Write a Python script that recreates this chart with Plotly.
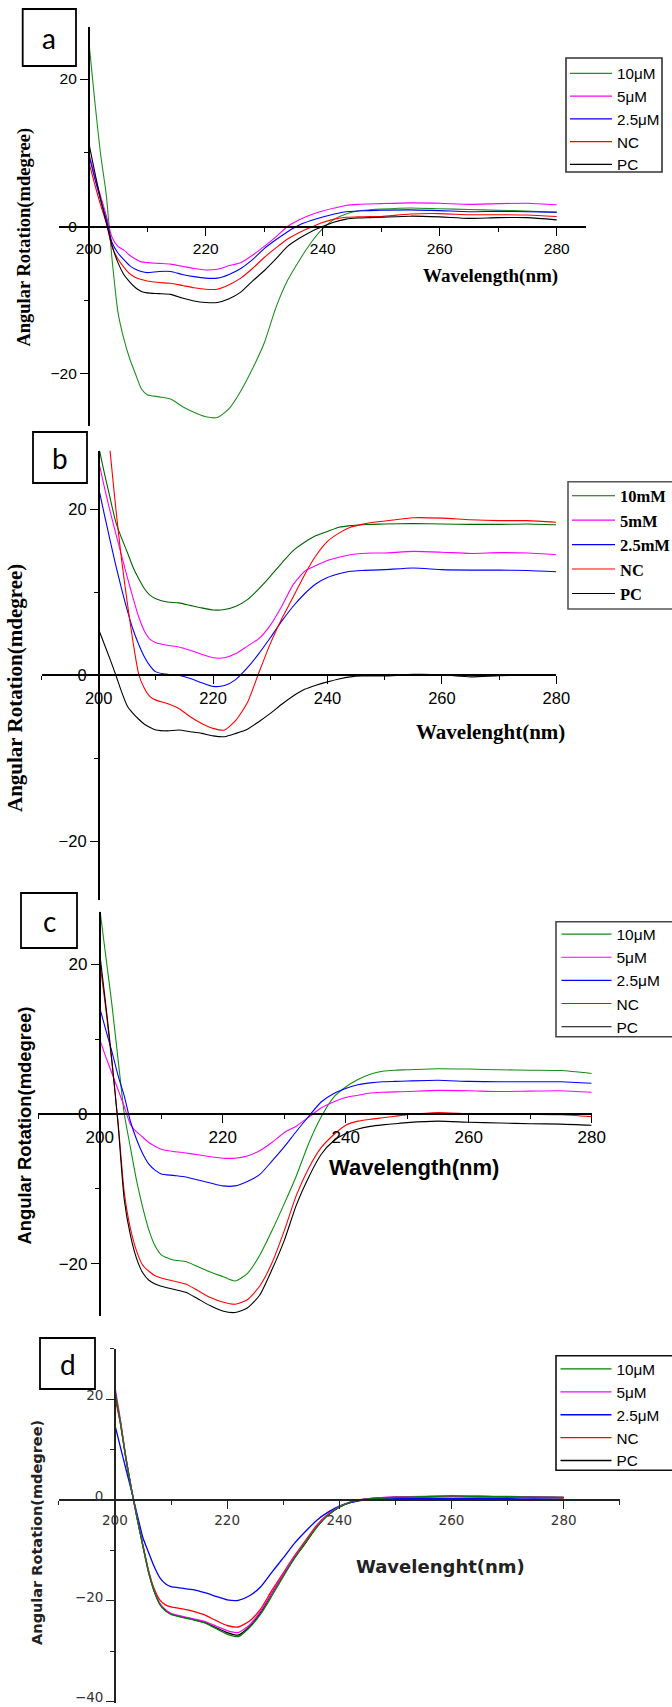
import plotly.graph_objects as go

W, H = 672, 1707

# ---------------- data ----------------
wavelength = [200, 201, 202, 203, 204, 205, 206, 207, 208, 209, 210,
              212, 214, 216, 218, 220, 222, 224, 226, 228, 230,
              232, 234, 236, 238, 240, 242, 244, 246, 248, 250,
              255, 260, 265, 270, 275, 280]

series_uM = ["10\u03bcM", "5\u03bcM", "2.5\u03bcM", "NC", "PC"]
series_mM = ["10mM", "5mM", "2.5mM", "NC", "PC"]

# panel a
a_10 = [25.3, 17.3, 10.0, 4.3, -4.5, -11.6, -15.2, -17.9, -20.0, -22.0, -22.8,
        -23.1, -23.4, -24.4, -25.2, -25.8, -25.9, -24.7, -22.3, -19.3, -15.8,
        -11.0, -7.3, -4.6, -2.2, -0.3, 1.0, 1.7, 2.1, 2.25, 2.35,
        2.5, 2.4, 2.3, 2.2, 2.1, 1.9]
a_5 = [10.1, 7.0, 4.2, 1.5, -1.5, -2.7, -3.2, -3.9, -4.4, -4.8, -4.9,
       -5.0, -5.1, -5.4, -5.7, -5.9, -5.8, -5.3, -4.9, -3.9, -2.7,
       -1.4, 0.0, 0.9, 1.6, 2.1, 2.5, 2.85, 3.0, 3.05, 3.1,
       3.2, 3.15, 3.0, 3.1, 3.15, 2.95]
a_2p5 = [9.8, 6.6, 3.7, 1.0, -2.2, -3.6, -4.5, -5.3, -5.8, -6.1, -6.25,
         -6.1, -6.1, -6.5, -6.8, -7.0, -7.0, -6.5, -5.7, -4.5, -3.0,
         -1.8, -0.7, 0.2, 0.8, 1.3, 1.7, 2.0, 2.1, 2.15, 2.2,
         2.25, 2.15, 2.0, 2.05, 2.0, 1.95]
a_NC = [8.8, 5.8, 3.0, 0.5, -2.8, -4.4, -5.5, -6.4, -6.9, -7.2, -7.4,
        -7.6, -7.7, -8.0, -8.3, -8.5, -8.5, -7.9, -7.0, -5.7, -4.2,
        -2.9, -1.7, -0.8, -0.1, 0.55, 1.0, 1.25, 1.3, 1.35, 1.35,
        1.7, 1.75, 1.6, 1.6, 1.55, 1.35]
a_PC = [11.4, 7.5, 3.8, 0.6, -2.6, -4.9, -6.5, -7.5, -8.3, -8.8, -9.0,
        -9.1, -9.2, -9.7, -10.1, -10.3, -10.3, -9.8, -8.9, -7.4, -6.0,
        -4.4, -2.7, -1.6, -0.7, 0.0, 0.6, 1.0, 1.15, 1.2, 1.25,
        1.4, 1.3, 1.1, 1.2, 1.2, 0.9]

# panel b
b_10 = [27.5, 24.3, 21.3, 18.4, 16.5, 14.8, 13.0, 11.6, 10.4, 9.6, 9.2,
        8.8, 8.7, 8.4, 8.1, 7.85, 7.9, 8.3, 9.1, 10.4, 11.9,
        13.5, 15.0, 16.0, 16.8, 17.3, 17.8, 18.0, 18.1, 18.15, 18.2,
        18.25, 18.2, 18.15, 18.15, 18.2, 18.1]
b_5 = [25.7, 22.6, 19.7, 17.0, 14.4, 11.8, 9.3, 7.0, 5.3, 4.3, 3.9,
       3.6, 3.4, 3.0, 2.5, 2.1, 2.1, 2.6, 3.5, 4.4, 6.0,
       8.3, 10.9, 12.5, 13.2, 13.8, 14.2, 14.5, 14.65, 14.7, 14.7,
       14.9, 14.8, 14.65, 14.75, 14.7, 14.5]
b_2p5 = [22.5, 19.3, 16.2, 13.2, 10.4, 7.8, 5.5, 3.7, 2.2, 1.1, 0.4,
         0.1, 0.0, -0.4, -0.9, -1.35, -1.25, -0.5, 0.9, 2.6, 4.5,
         6.5, 8.3, 9.8, 11.0, 11.75, 12.2, 12.5, 12.6, 12.65, 12.7,
         12.9, 12.7, 12.65, 12.65, 12.6, 12.45]
b_NC = [41.0, 34.0, 26.9, 20.0, 13.9, 8.7, 4.0, 0.1, -1.6, -2.6, -3.0,
        -3.4, -4.0, -5.0, -5.8, -6.4, -6.6, -5.4, -3.3, 0.3, 3.8,
        6.8, 9.4, 12.1, 14.4, 16.1, 17.1, 17.8, 18.15, 18.4, 18.55,
        18.95, 18.9, 18.7, 18.6, 18.6, 18.4]
b_PC = [5.5, 3.7, 1.9, 0.0, -2.0, -3.7, -4.6, -5.3, -5.9, -6.3, -6.6,
        -6.7, -6.6, -6.8, -7.0, -7.3, -7.4, -7.0, -6.5, -5.6, -4.6,
        -3.5, -2.5, -1.7, -1.2, -0.8, -0.45, -0.2, -0.1, -0.1, -0.1,
        0.1, 0.05, -0.2, -0.05, 0.0, 0.0]

# panel c
c_10 = [27.5, 21.0, 14.5, 7.2, 0.0, -4.5, -8.9, -12.5, -15.5, -17.6, -18.8,
        -19.5, -19.7, -20.4, -21.1, -21.7, -22.3, -21.3, -18.9, -15.6, -12.0,
        -8.2, -3.9, -0.4, 2.2, 3.6, 4.6, 5.3, 5.7, 5.85, 5.9,
        6.05, 6.0, 5.9, 5.85, 5.8, 5.4]
c_5 = [10.0, 7.6, 5.4, 3.2, 1.0, -1.4, -2.4, -3.1, -3.8, -4.3, -4.7,
       -5.0, -5.2, -5.45, -5.7, -5.9, -5.9, -5.6, -4.9, -3.8, -2.5,
       -1.6, -0.4, 0.8, 1.6, 2.2, 2.5, 2.8, 2.9, 2.95, 3.0,
       3.15, 3.1, 3.0, 3.05, 3.1, 2.9]
c_2p5 = [14.2, 11.2, 8.3, 5.1, 2.4, -1.0, -3.4, -5.3, -6.7, -7.5, -8.0,
         -8.2, -8.4, -8.8, -9.2, -9.6, -9.6, -9.0, -8.1, -6.3, -4.4,
         -2.3, -0.3, 1.6, 2.7, 3.4, 3.9, 4.15, 4.3, 4.35, 4.4,
         4.5, 4.35, 4.3, 4.3, 4.3, 4.1]
c_NC = [20.4, 14.0, 6.8, -1.2, -10.5, -15.3, -18.3, -20.2, -21.0, -21.6, -21.9,
        -22.3, -22.7, -23.6, -24.5, -25.1, -25.4, -24.8, -23.0, -19.9, -15.6,
        -10.8, -7.2, -4.5, -2.8, -1.5, -0.95, -0.7, -0.5, -0.3, -0.1,
        0.2, 0.05, 0.0, -0.05, -0.1, -0.35]
c_PC = [21.5, 14.5, 7.0, -1.5, -11.5, -16.2, -19.3, -21.2, -22.2, -22.7, -23.0,
        -23.4, -23.8, -24.7, -25.6, -26.3, -26.5, -25.9, -24.2, -20.8, -16.9,
        -12.1, -8.4, -5.4, -3.6, -2.6, -2.0, -1.65, -1.45, -1.3, -1.15,
        -0.95, -1.1, -1.2, -1.3, -1.35, -1.5]

# panel d
d_10 = [21.9, 15.2, 8.0, 1.9, -3.8, -9.2, -14.3, -18.0, -20.7, -22.0, -22.7,
        -23.3, -23.8, -24.4, -25.5, -26.6, -27.1, -25.3, -22.6, -19.0, -15.2,
        -11.6, -8.4, -5.4, -3.0, -1.4, -0.4, 0.05, 0.26, 0.4, 0.5,
        0.65, 0.8, 0.7, 0.66, 0.55, 0.5]
d_5 = [22.5, 15.8, 8.2, 1.8, -3.8, -9.2, -14.2, -18.0, -20.5, -21.7, -22.5,
       -23.1, -23.6, -24.1, -25.0, -25.9, -26.3, -24.8, -22.0, -18.4, -14.8,
       -11.3, -8.3, -5.2, -2.9, -1.3, -0.35, 0.1, 0.35, 0.5, 0.6,
       0.7, 0.75, 0.75, 0.7, 0.6, 0.5]
d_2p5 = [14.9, 10.4, 6.0, 1.6, -3.0, -7.5, -10.4, -13.2, -15.4, -16.6, -17.2,
         -17.5, -17.8, -18.4, -19.1, -19.8, -19.9, -19.0, -17.2, -14.3, -11.5,
         -8.6, -6.2, -4.0, -2.4, -1.2, -0.5, -0.05, 0.1, 0.2, 0.25,
         0.3, 0.33, 0.3, 0.25, 0.2, 0.13]
d_NC = [20.5, 15.0, 8.0, 1.8, -3.8, -9.0, -14.0, -17.6, -19.8, -20.8, -21.2,
        -21.6, -22.1, -22.8, -23.9, -24.9, -25.2, -24.0, -21.6, -17.9, -14.5,
        -11.1, -8.0, -5.0, -2.8, -1.3, -0.4, 0.05, 0.3, 0.45, 0.5,
        0.6, 0.65, 0.6, 0.55, 0.5, 0.45]
d_PC = [21.2, 15.3, 8.0, 1.8, -3.8, -9.1, -14.3, -18.1, -20.6, -21.9, -22.6,
        -23.2, -23.7, -24.3, -25.3, -26.3, -26.8, -25.1, -22.3, -18.5, -15.0,
        -11.5, -8.5, -5.3, -3.0, -1.4, -0.45, 0.05, 0.3, 0.45, 0.55,
        0.65, 0.75, 0.7, 0.65, 0.55, 0.5]

x_ticks = [200, 220, 240, 260, 280]
x_title_a = "Wavelength(nm)"
x_title_b = "Wavelenght(nm)"
y_title = "Angular Rotation(mdegree)"
panel_letters = ["a", "b", "c", "d"]

# ---------------- layout helpers ----------------
def px_x(p):
    return p / W


def px_y(p):
    return 1 - p / H


colors = ["#008000", "#ff00ff", "#0000ff", "#ff0000", "#000000"]

SANS = "Liberation Sans"
SERIF = "Liberation Serif"

panels = [
    dict(data=[a_10, a_5, a_2p5, a_NC, a_PC], names=series_uM,
         x200=88.7, sx=5.85, xr=[195, 285], y0=226.5, sy=7.375, yr=[-27, 27],
         tickfont=dict(family=SANS, size=15.5, color="black"), yshift=0,
         box=(22.7, 9, 76, 66),
         ytitle=dict(x=23.6, y=237, font=dict(family=SERIF, size=18.5, color="black", weight="bold")),
         xtitle=dict(text=x_title_a, x=490, y=275.5,
                     font=dict(family=SERIF, size=19, color="black", weight="bold")),
         legend=dict(x=565, y=57, font=dict(family=SANS, size=15.2, color="black"), itemwidth=42),
         legbox=(566, 58, 662, 172), legcolor="#333333", green="#1f8f1f", lw=1.1),
    dict(data=[b_10, b_5, b_2p5, b_NC, b_PC], names=series_mM,
         x200=98.7, sx=5.72, xr=[190, 280], y0=675.2, sy=8.31, yr=[-27, 27],
         tickfont=dict(family=SANS, size=16.5, color="black"), yshift=0,
         box=(33, 432, 87, 483),
         ytitle=dict(x=15, y=688, font=dict(family=SERIF, size=21, color="black", weight="bold")),
         xtitle=dict(text=x_title_b, x=490.5, y=731.7,
                     font=dict(family=SERIF, size=21, color="black", weight="bold")),
         legend=dict(x=567, y=478.5, font=dict(family=SERIF, size=16.5, color="black", weight="bold"),
                     itemwidth=43),
         legbox=(568, 481.7, 700, 609), legcolor="#555555", green="#006400", lw=1.1),
    dict(data=[c_10, c_5, c_2p5, c_NC, c_PC], names=series_uM,
         x200=99.7, sx=6.15, xr=[190, 280], y0=1114, sy=7.49, yr=[-27, 27],
         tickfont=dict(family=SANS, size=17, color="black"), yshift=0,
         box=(21, 893, 77, 948),
         ytitle=dict(x=23.6, y=1126, font=dict(family=SANS, size=18.4, color="black", weight="bold")),
         xtitle=dict(text=x_title_a, x=413.5, y=1167.7,
                     font=dict(family=SANS, size=22, color="black", weight="bold")),
         legend=dict(x=556.5, y=917.5, font=dict(family=SANS, size=15.5, color="black"), itemwidth=50),
         legbox=(556, 921.7, 700, 1036.7), legcolor="#444444", green="#108f10", lw=1.1),
    dict(data=[d_10, d_5, d_2p5, d_NC, d_PC], names=series_uM,
         x200=114.9, sx=5.61, xr=[190, 290], y0=1500, sy=5.04, yr=[-40.2, 30],
         tickfont=dict(family="DejaVu Sans", size=13.5, color="#333333"), yshift=-4,
         box=(40, 1338, 95, 1389),
         ytitle=dict(x=36.4, y=1532.5, font=dict(family="DejaVu Sans", size=14.5, color="#222222",
                                                  weight="bold")),
         xtitle=dict(text=x_title_b, x=440, y=1566.7,
                     font=dict(family="DejaVu Sans", size=18, color="#222222", weight="bold")),
         legend=dict(x=555.5, y=1352.5, font=dict(family=SANS, size=15.3, color="black"), itemwidth=51),
         legbox=(556, 1355.7, 700, 1470.3), legcolor="#111111", green="#008000", lw=1.3),
]

fig = go.Figure()
shapes = []
annotations = []
layout_upd = {}

for i, p in enumerate(panels):
    n = i + 1
    xa = "xaxis" if n == 1 else f"xaxis{n}"
    ya = "yaxis" if n == 1 else f"yaxis{n}"
    xref = "x" if n == 1 else f"x{n}"
    yref = "y" if n == 1 else f"y{n}"
    leg = "legend" if n == 1 else f"legend{n}"

    cols = [p["green"]] + colors[1:]
    order = [4, 3, 2, 1, 0] if n == 4 else [0, 1, 2, 3, 4]
    for k in order:
        fig.add_trace(go.Scatter(
            x=wavelength, y=p["data"][k], name=p["names"][k], mode="lines",
            line=dict(color=cols[k], width=p["lw"], shape="spline", smoothing=0.6),
            xaxis=xref, yaxis=yref, legend=leg, legendrank=k + 1,
            hoverinfo="skip"))

    xr, yr = p["xr"], p["yr"]
    xl = p["x200"] + (xr[0] - 200) * p["sx"]
    xh = p["x200"] + (xr[1] - 200) * p["sx"]
    yb = p["y0"] - yr[0] * p["sy"]
    yt = p["y0"] - yr[1] * p["sy"]

    tick_col = "#222222" if n == 4 else "black"
    layout_upd[xa] = dict(
        domain=[px_x(xl), px_x(xh)], range=xr, anchor="free", position=px_y(p["y0"]),
        showline=True, linecolor=tick_col, linewidth=2 if n < 4 else 1.6,
        ticks="outside", ticklen=8, tickwidth=1.4, tickcolor=tick_col,
        tickmode="array", tickvals=x_ticks, ticktext=[str(v) for v in x_ticks],
        minor=dict(ticks="outside", ticklen=4, tickwidth=1.4, tickcolor=tick_col,
                   tick0=0, dtick=10, showgrid=False),
        showgrid=False, zeroline=False, tickfont=p["tickfont"], fixedrange=True,
        ticklabeloverflow="allow")
    layout_upd[ya] = dict(
        domain=[px_y(yb), px_y(yt)], range=yr, anchor="free", position=px_x(p["x200"]),
        showline=True, linecolor=tick_col, linewidth=1.6,
        ticks="outside", ticklen=8, tickwidth=1.4, tickcolor=tick_col,
        tick0=0, dtick=20, ticklabelshift=p["yshift"],
        minor=dict(ticks="outside", ticklen=4, tickwidth=1.4, tickcolor=tick_col,
                   tick0=0, dtick=10, showgrid=False),
        showgrid=False, zeroline=False, tickfont=p["tickfont"], fixedrange=True,
        ticklabeloverflow="allow")

    lg = p["legend"]
    layout_upd[leg] = dict(
        x=px_x(lg["x"]), y=px_y(lg["y"]), xanchor="left", yanchor="top",
        bgcolor="rgba(0,0,0,0)", borderwidth=0, font=lg["font"],
        itemwidth=lg["itemwidth"], tracegroupgap=0, traceorder="normal")

    lb = p["legbox"]
    shapes.append(dict(type="rect", xref="paper", yref="paper",
                       x0=px_x(lb[0]), x1=px_x(lb[2]), y0=px_y(lb[3]), y1=px_y(lb[1]),
                       line=dict(color=p["legcolor"], width=1.6), fillcolor="rgba(0,0,0,0)",
                       layer="below"))

    bx = p["box"]
    shapes.append(dict(type="rect", xref="paper", yref="paper",
                       x0=px_x(bx[0]), x1=px_x(bx[2]), y0=px_y(bx[3]), y1=px_y(bx[1]),
                       line=dict(color="black", width=1.8), fillcolor="rgba(0,0,0,0)"))
    annotations.append(dict(text=panel_letters[i], xref="paper", yref="paper",
                            x=px_x((bx[0] + bx[2]) / 2), y=px_y((bx[1] + bx[3]) / 2),
                            xanchor="center", yanchor="middle", showarrow=False,
                            font=dict(family="Lato", size=28, color="black")))

    yt_ = p["ytitle"]
    annotations.append(dict(text=y_title, xref="paper", yref="paper",
                            x=px_x(yt_["x"]), y=px_y(yt_["y"]), textangle=-90,
                            xanchor="center", yanchor="middle", showarrow=False,
                            font=yt_["font"]))
    xt_ = p["xtitle"]
    annotations.append(dict(text=xt_["text"], xref="paper", yref="paper",
                            x=px_x(xt_["x"]), y=px_y(xt_["y"]),
                            xanchor="center", yanchor="middle", showarrow=False,
                            font=xt_["font"]))

fig.update_layout(
    width=W, height=H,
    margin=dict(l=0, r=0, t=0, b=0, autoexpand=False),
    paper_bgcolor="white", plot_bgcolor="rgba(0,0,0,0)",
    showlegend=True, shapes=shapes, annotations=annotations,
    **layout_upd)

fig.write_html("out.html")
